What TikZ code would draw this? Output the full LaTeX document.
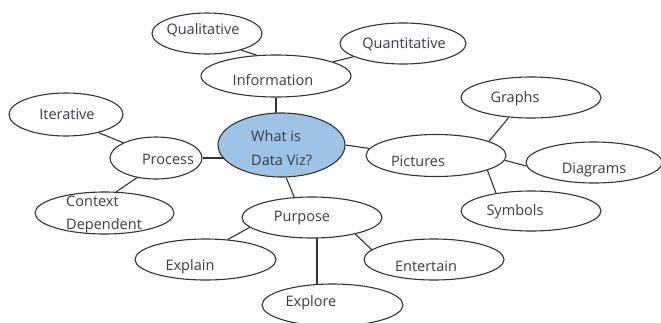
\documentclass[tikz,border=0pt]{standalone}
\usepackage{fontspec}
\setmainfont{Open Sans}
\usetikzlibrary{shapes.geometric,backgrounds}
\definecolor{inkc}{HTML}{3C3A48}
\definecolor{linec}{HTML}{333333}
\definecolor{hubblue}{HTML}{9DC3E6}
\begin{document}
\begin{tikzpicture}[x=1pt,y=-1pt,
  bubble/.style={ellipse,draw=linec,line width=1.1pt,fill=white,inner sep=0pt},
  lbl/.style={text=inkc,font=\fontsize{14.5}{17}\selectfont,inner sep=0pt},
  link/.style={draw=linec,line width=1.1pt}]
\useasboundingbox (0,0) rectangle (661,322);
\begin{scope}
\clip (0,0) rectangle (661,322);
% bubbles
\node[bubble,fill=hubblue,minimum width=127pt,minimum height=64pt] (hub) at (281.5,145) {};
\node[bubble,minimum width=110pt,minimum height=41pt] (qual) at (207,33.5) {};
\node[bubble,minimum width=150pt,minimum height=42pt] (info) at (276,76) {};
\node[bubble,minimum width=126pt,minimum height=41pt] (quant) at (403,43.5) {};
\node[bubble,minimum width=114pt,minimum height=43pt] (iter) at (66,114.5) {};
\node[bubble,minimum width=92pt,minimum height=42pt] (proc) at (156,158) {};
\node[bubble,minimum width=139pt,minimum height=42pt] (ctx) at (104.5,213) {};
\node[bubble,minimum width=140pt,minimum height=42pt] (pict) at (436,155.5) {};
\node[bubble,minimum width=140pt,minimum height=41pt] (graphs) at (531,97.5) {};
\node[bubble,minimum width=136pt,minimum height=41pt] (diag) at (594,162.5) {};
\node[bubble,minimum width=140pt,minimum height=40pt] (symb) at (531,211) {};
\node[bubble,minimum width=140pt,minimum height=41pt] (purp) at (312,217.5) {};
\node[bubble,minimum width=141pt,minimum height=41pt] (expl) at (205.5,259.5) {};
\node[bubble,minimum width=140pt,minimum height=41pt] (ent) at (434,259.5) {};
\node[bubble,minimum width=141pt,minimum height=42pt] (explo) at (332.5,305) {};
\end{scope}
% connectors, kept behind the bubbles
\begin{scope}[on background layer]
\draw[link] (qual.-26) -- (info.133);
\draw[link] (quant.195) -- (info.14);
\draw[link] (info.south) -- (info.south |- hub.center);
\draw[link] (iter.-29) -- (proc.155);
\draw[link] (proc.east) -- (proc.east -| hub.center);
\draw[link] (proc.226) -- (ctx.61);
\draw[link] (hub.0) -- (pict.174);
\draw[link] (pict.15) -- (graphs.222);
\draw[link] (pict.-4) -- (diag.183);
\draw[link] (pict.-16) -- (symb.153);
\draw[link] (hub.-82) -- (purp.131);
\draw[link] (purp.189) -- (expl.42);
\draw[link] (purp.-21) -- (ent.171);
\draw[link] ([xshift=5pt]purp.center) -- ([xshift=-15.5pt]explo.center);
\end{scope}
% texts
\node[lbl] (tqual) at (203,30) {Qualitative};
\node[lbl] (tinfo) at (273,80) {Information};
\node[lbl] (tquant) at (404,44) {Quantitative};
\node[lbl] (titer) at (67,114) {Iterative};
\node[lbl] (tproc) at (168,159) {Process};
\node[lbl,align=left,anchor=west] (thub) at (251,148) {What is\\[7pt]Data Viz?};
\node[lbl] (tpict) at (418,161) {Pictures};
\node[lbl] (tgraphs) at (515,99) {Graphs};
\node[lbl] (tdiag) at (594,170) {Diagrams};
\node[lbl] (tsymb) at (515,212) {Symbols};
\node[lbl,align=left,anchor=west] (tctx) at (66,214) {Context\\[6pt]Dependent};
\node[lbl] (tpurp) at (302,218) {Purpose};
\node[lbl] (texpl) at (190,267) {Explain};
\node[lbl] (tent) at (426,266) {Entertain};
\node[lbl] (texplo) at (311,303) {Explore};
\end{tikzpicture}
\end{document}
